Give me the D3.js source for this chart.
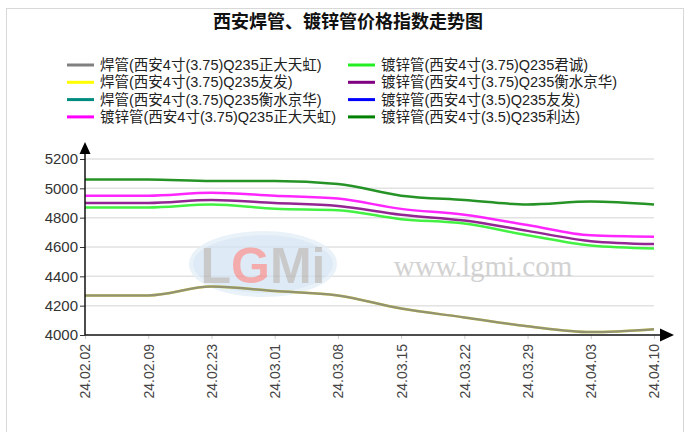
<!DOCTYPE html>
<html>
<head>
<meta charset="utf-8">
<script src="https://d3js.org/d3.v7.min.js"></script>
<style>
  body { margin: 0; background: #fff; }
  text { font-family: "Liberation Sans", Arial, "Noto Sans CJK SC", sans-serif; }
</style>
</head>
<body>
<div id="chart"></div>
<script>

// chart data
var dates = ["24.02.02","24.02.09","24.02.23","24.03.01","24.03.08","24.03.15","24.03.22","24.03.29","24.04.03","24.04.10"];
var yTicks = [4000, 4200, 4400, 4600, 4800, 5000, 5200];

var seriesNames = [
  "焊管(西安4寸(3.75)Q235正大天虹)",
  "焊管(西安4寸(3.75)Q235友发)",
  "焊管(西安4寸(3.75)Q235衡水京华)",
  "镀锌管(西安4寸(3.75)Q235正大天虹)",
  "镀锌管(西安4寸(3.75)Q235君诚)",
  "镀锌管(西安4寸(3.75)Q235衡水京华)",
  "镀锌管(西安4寸(3.5)Q235友发)",
  "镀锌管(西安4寸(3.5)Q235利达)"
];
var seriesColors = ["#808080","#ffff00","#008b80","#ff00ff","#22ee22","#800080","#0000ff","#008000"];

var hgZhengda   = [4270, 4270, 4330, 4300, 4270, 4180, 4120, 4060, 4020, 4040];
var hgYoufa     = [4270, 4270, 4330, 4300, 4270, 4180, 4120, 4060, 4020, 4040];
var hgHengshui  = [];   // not visible in the chart
var dxZhengda   = [4950, 4950, 4970, 4950, 4930, 4860, 4820, 4750, 4680, 4670];
var dxJuncheng  = [4870, 4870, 4890, 4860, 4850, 4790, 4760, 4680, 4610, 4590];
var dxHengshui  = [4900, 4900, 4920, 4900, 4880, 4820, 4780, 4710, 4640, 4620];
var dxYoufa35   = [];   // not visible in the chart
var dxLida35    = [5060, 5060, 5050, 5050, 5030, 4950, 4920, 4890, 4910, 4890];

var seriesValues = [hgZhengda, hgYoufa, hgHengshui, dxZhengda, dxJuncheng, dxHengshui, dxYoufa35, dxLida35];

var width = 692, height = 432;

var svg = d3.select("#chart").append("svg")
  .attr("width", width)
  .attr("height", height);

// outer frame
svg.append("rect")
  .attr("x", 6.5).attr("y", 8.5)
  .attr("width", 677).attr("height", 430)
  .attr("fill", "none").attr("stroke", "#d8d8d8");

// title
svg.append("text")
  .attr("x", 348).attr("y", 28)
  .attr("text-anchor", "middle")
  .style("font-size", "18px").style("font-weight", "bold")
  .attr("fill", "#111")
  .text("西安焊管、镀锌管价格指数走势图");

// legend
var legend = svg.append("g");
seriesNames.forEach(function(name, i) {
  var col = i < 4 ? 0 : 1, row = i % 4;
  var lx = col == 0 ? 67 : 348, ly = 65 + row * 17.3;
  legend.append("line")
    .attr("x1", lx).attr("x2", lx + 27)
    .attr("y1", ly).attr("y2", ly)
    .attr("stroke", seriesColors[i]).attr("stroke-width", 3);
  legend.append("text")
    .attr("x", lx + 33).attr("y", ly + 5)
    .style("font-size", "14.5px")
    .attr("fill", "#222")
    .text(name);
});

// scales
var x = d3.scalePoint().domain(dates).range([85, 654]);
var y = d3.scaleLinear().domain([4000, 5200]).range([335, 159]);

// grid
svg.append("g")
  .selectAll("line")
  .data(yTicks.slice(1))
  .enter().append("line")
  .attr("x1", 85).attr("x2", 654)
  .attr("y1", function(d) { return y(d); })
  .attr("y2", function(d) { return y(d); })
  .attr("stroke", "#e2e2e2").attr("stroke-width", 1.5);

// watermark
var wm = svg.append("g").attr("opacity", 0.75);
wm.append("ellipse")
  .attr("cx", 263).attr("cy", 264).attr("rx", 72).attr("ry", 31)
  .attr("fill", "#d3e3f3").attr("stroke", "#e4eef8").attr("stroke-width", 4);
var logo = wm.append("text")
  .attr("x", 263).attr("y", 283)
  .attr("text-anchor", "middle")
  .style("font-size", "50px").style("font-weight", "bold");
logo.append("tspan").attr("fill", "#b8b8b8").text("L");
logo.append("tspan").attr("fill", "#f09090").text("G");
logo.append("tspan").attr("fill", "#b8b8b8").text("Mi");
wm.append("text")
  .attr("x", 483).attr("y", 276)
  .attr("text-anchor", "middle")
  .style("font-family", "'Liberation Serif', 'DejaVu Serif', serif")
  .style("font-size", "29px")
  .attr("fill", "#c4c4c4")
  .text("www.lgmi.com");

// lines (reverse order so the first series lie on top)
var line = d3.line()
  .x(function(d, i) { return x(dates[i]); })
  .y(function(d) { return y(d); })
  .curve(d3.curveMonotoneX);

for (var k = seriesValues.length - 1; k >= 0; k--) {
  if (seriesValues[k].length == 0) continue;
  svg.append("path")
    .datum(seriesValues[k])
    .attr("d", line)
    .attr("fill", "none")
    .attr("stroke", seriesColors[k])
    .attr("stroke-width", 2.5)
    .attr("stroke-opacity", 0.85);
}

// y axis
var yAxis = svg.append("g").attr("transform", "translate(85,0)")
  .call(d3.axisLeft(y).tickValues(yTicks).tickSize(5).tickPadding(2).tickFormat(d3.format("d")));
yAxis.select(".domain").remove();
yAxis.selectAll("line").attr("stroke", "#333");
yAxis.selectAll("text").style("font-size", "15px").attr("fill", "#333")
  .style("font-family", "'Liberation Sans', Arial, sans-serif");
svg.append("line").attr("x1", 85).attr("x2", 85).attr("y1", 150).attr("y2", 335)
  .attr("stroke", "#111").attr("stroke-width", 1.5);
svg.append("path").attr("d", "M85,142 L79.5,154 L90.5,154 Z").attr("fill", "#000");

// x axis
var xAxis = svg.append("g").attr("transform", "translate(0,335)")
  .call(d3.axisBottom(x).tickSize(4).tickPadding(6));
xAxis.select(".domain").remove();
xAxis.selectAll("line").attr("stroke", "#ccc");
xAxis.selectAll("text")
  .style("font-size", "14px").attr("fill", "#444")
  .style("font-family", "'Liberation Sans', Arial, sans-serif")
  .attr("text-anchor", "end")
  .attr("transform", "rotate(-90)")
  .attr("x", -9).attr("y", 0).attr("dy", "0.35em");
svg.append("line").attr("x1", 85).attr("x2", 664).attr("y1", 335).attr("y2", 335)
  .attr("stroke", "#111").attr("stroke-width", 1.5);
svg.append("path").attr("d", "M674,335 L660,328.5 L660,341.5 Z").attr("fill", "#000");

</script>
</body>
</html>
